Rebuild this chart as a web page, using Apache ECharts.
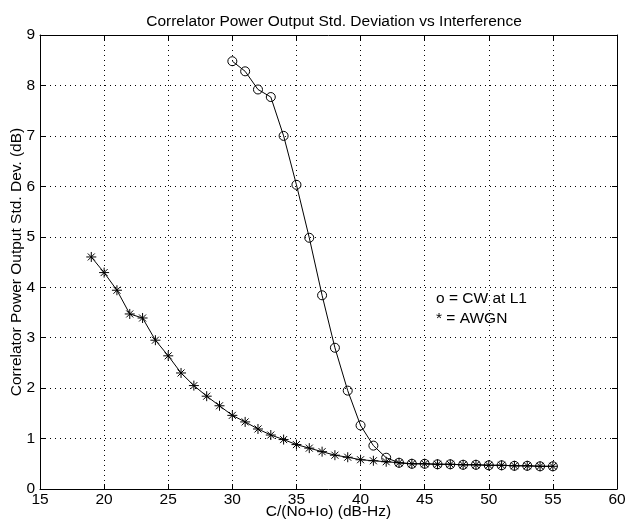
<!DOCTYPE html>
<html>
<head>
<meta charset="utf-8">
<script src="https://cdn.jsdelivr.net/npm/echarts@6/dist/echarts.min.js"></script>
<style>html,body{margin:0;padding:0;background:#fff;}#c{width:626px;height:527px;}</style>
</head>
<body>
<div id="c"></div>
<script>
var cwX = [30,31,32,33,34,35,36,37,38,39,40,41,42,43,44,45,46,47,48,49,50,51,52,53,54,55];
var cwY = [8.48,8.28,7.92,7.77,7.00,6.03,4.98,3.84,2.80,1.95,1.26,0.86,0.62,0.52,0.50,0.50,0.49,0.49,0.48,0.48,0.47,0.47,0.46,0.46,0.45,0.45];
var awgnX = [19,20,21,22,23,24,25,26,27,28,29,30,31,32,33,34,35,36,37,38,39,40,41,42,43,44,45,46,47,48,49,50,51,52,53,54,55];
var awgnY = [4.60,4.29,3.94,3.47,3.39,2.95,2.64,2.30,2.05,1.84,1.65,1.46,1.33,1.19,1.07,0.98,0.88,0.81,0.74,0.67,0.63,0.58,0.56,0.54,0.52,0.50,0.50,0.49,0.49,0.48,0.48,0.47,0.47,0.46,0.46,0.45,0.45];
var titleText = 'Correlator Power Output Std. Deviation vs Interference';
var xName = 'C/(No+Io) (dB-Hz)';
var yName = 'Correlator Power Output Std. Dev. (dB)';
var notes = ['o = CW at L1', '* = AWGN'];

function pairs(xs, ys){ return xs.map(function(x,i){ return [x, ys[i]]; }); }
var FONT = '"Liberation Sans", Arial, Helvetica, sans-serif';
var FS = 15.5;
var chart = echarts.init(document.getElementById('c'), null, {renderer:'canvas'});
var grid = {left:40, right:9, top:35, bottom:38, containLabel:false, outerBoundsMode:'none'};
var gridLine = {show:true, lineStyle:{color:'#000', width:1, type:[1,4]}};
var star = 'path://M0,-5L0,5M-5,0L5,0M-3.5,-3.5L3.5,3.5M-3.5,3.5L3.5,-3.5';
var option = {
  animation:false,
  backgroundColor:'#fff',
  title:{text:titleText, left:329, top:9, textAlign:'center',
    textStyle:{fontFamily:FONT, fontSize:FS, fontWeight:'normal', color:'#000'}},
  grid:grid,
  xAxis:[{
    type:'value', min:15, max:60, interval:5, position:'bottom',
    name:xName, nameLocation:'middle', nameGap:15, nameMoveOverlap:false,
    nameTextStyle:{fontFamily:FONT, fontSize:FS, color:'#000'},
    axisLine:{show:true, onZero:false, lineStyle:{color:'#000', width:1}},
    axisTick:{show:true, inside:true, length:5, lineStyle:{color:'#000'}},
    axisLabel:{fontFamily:FONT, fontSize:FS, color:'#000', margin:3},
    splitLine:gridLine
  },{
    type:'value', min:15, max:60, interval:5, position:'top',
    axisLine:{show:true, onZero:false, lineStyle:{color:'#000', width:1}},
    axisTick:{show:true, inside:true, length:5, lineStyle:{color:'#000'}},
    axisLabel:{show:false}, splitLine:{show:false}
  }],
  yAxis:[{
    type:'value', min:0, max:9, interval:1, position:'left',
    name:yName, nameLocation:'middle', nameGap:15, nameMoveOverlap:false,
    nameTextStyle:{fontFamily:FONT, fontSize:FS, color:'#000'},
    axisLine:{show:true, onZero:false, lineStyle:{color:'#000', width:1}},
    axisTick:{show:true, inside:true, length:5, lineStyle:{color:'#000'}},
    axisLabel:{fontFamily:FONT, fontSize:FS, color:'#000', margin:5},
    splitLine:gridLine
  },{
    type:'value', min:0, max:9, interval:1, position:'right',
    axisLine:{show:true, onZero:false, lineStyle:{color:'#000', width:1}},
    axisTick:{show:true, inside:true, length:5, lineStyle:{color:'#000'}},
    axisLabel:{show:false}, splitLine:{show:false}
  }],
  series:[{
    name:'CW at L1', type:'line', data:pairs(cwX, cwY),
    symbol:'circle', symbolSize:9,
    lineStyle:{color:'#000', width:1},
    itemStyle:{color:'rgba(0,0,0,0)', borderColor:'#000', borderWidth:1}
  },{
    name:'AWGN', type:'line', data:pairs(awgnX, awgnY),
    symbol:star, symbolSize:10, symbolKeepAspect:true,
    lineStyle:{color:'#000', width:1},
    itemStyle:{color:'none', borderColor:'#000', borderWidth:1}
  }],
  graphic:[
    {type:'text', left:436, top:291, style:{text:notes[0], font:FS + 'px ' + FONT, fill:'#000'}},
    {type:'text', left:436, top:311, style:{text:notes[1], font:FS + 'px ' + FONT, fill:'#000'}}
  ]
};
chart.setOption(option);
</script>
</body>
</html>
